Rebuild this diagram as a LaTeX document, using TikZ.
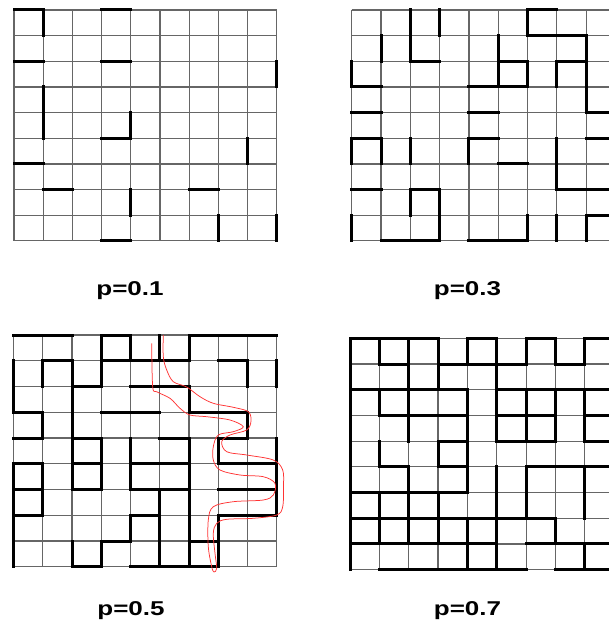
\documentclass[tikz,border=0pt]{standalone}
\usepackage{fontspec}
\setmainfont{Liberation Sans}
\usepackage{tikz}

\begin{document}
\begin{tikzpicture}[
    x=1pt, y=-1pt,
    gridline/.style={draw=black!60, line width=1.2pt},
    bond/.style={draw=black, line width=3pt, line cap=rect},
    cut/.style={draw=red!80, line width=0.75pt},
    plabel/.style={font=\fontsize{20}{24}\selectfont\bfseries, xscale=1.3, anchor=base, inner sep=0pt}
]
\path[use as bounding box] (0,0) rectangle (609,626);
\clip (0,0) rectangle (609,626);

% p = 0.1
\begin{scope}[shift={(14,10)}, xscale=29.2, yscale=25.65]
  \foreach \i in {0,...,9} {\draw[gridline] (\i,0) -- (\i,9); \draw[gridline] (0,\i) -- (9,\i);}
  \foreach \j/\a/\b in {0/0/1, 0/3/4, 2/0/1, 2/3/4, 5/3/4, 6/0/1, 7/1/2, 7/6/7, 9/3/4}
    \draw[bond] (\a,\j) -- (\b,\j);
  \foreach \i/\a/\b in {1/0/1, 1/3/5, 4/4/5, 4/7/8, 7/8/9, 8/5/6, 9/2/3, 9/8/9}
    \draw[bond] (\i,\a) -- (\i,\b);
\end{scope}

% p = 0.3
\begin{scope}[shift={(351.7,10)}, xscale=29.3, yscale=25.65]
  \foreach \i in {0,...,9} {\draw[gridline] (\i,0) -- (\i,9); \draw[gridline] (0,\i) -- (9,\i);}
  \foreach \j/\a/\b in {0/6/7, 1/6/8, 2/2/3, 2/5/6, 2/7/8, 3/0/1, 3/4/6, 4/0/1, 4/4/5, 4/8/9,
                        5/0/1, 5/4/5, 5/8/9, 6/5/6, 7/0/1, 7/2/3, 7/7/9, 8/8/9, 9/1/3, 9/4/6}
    \draw[bond] (\a,\j) -- (\b,\j);
  \foreach \i/\a/\b in {0/2/3, 0/5/6, 0/8/9, 1/1/2, 1/5/6, 2/0/2, 2/5/6, 2/7/8, 3/0/1, 3/7/9,
                        4/5/6, 5/1/3, 6/0/1, 6/2/3, 6/8/9, 7/2/3, 7/5/7, 7/8/9, 8/1/4, 8/8/9}
    \draw[bond] (\i,\a) -- (\i,\b);
\end{scope}

% p = 0.5
\begin{scope}[shift={(13.5,335)}, xscale=29.25, yscale=25.75]
  \foreach \i in {0,...,9} {\draw[gridline] (\i,0) -- (\i,9); \draw[gridline] (0,\i) -- (9,\i);}
  \foreach \j/\a/\b in {0/0/2, 0/3/4, 0/6/9, 1/1/2, 1/3/6, 1/7/8, 2/2/3, 2/4/6, 3/0/1, 3/3/5, 3/6/8,
                        4/0/1, 4/2/3, 4/5/6, 4/7/8, 5/0/1, 5/2/3, 5/4/6, 5/7/9, 6/0/1, 6/2/3, 6/4/6, 6/7/9,
                        7/0/1, 7/4/5, 7/7/9, 8/3/4, 8/6/7, 9/2/3, 9/4/7}
    \draw[bond] (\a,\j) -- (\b,\j);
  \foreach \i/\a/\b in {0/1/3, 0/5/9, 1/1/2, 1/3/4, 1/5/7, 2/1/6, 2/8/9, 3/0/2, 3/4/6, 3/8/9,
                        4/0/1, 4/4/6, 4/7/8, 5/0/1, 5/6/9, 6/0/1, 6/2/3, 6/4/9, 7/4/5, 7/7/9,
                        8/1/2, 8/3/4, 9/1/2, 9/4/7}
    \draw[bond] (\i,\a) -- (\i,\b);
\end{scope}

% spanning path
\draw[cut] plot[smooth, tension=0.55] coordinates {
  (163.3,335) (163.3,356.7) (166.7,370) (173.3,381.7) (186.7,387) (200,396.7) (213.3,403.3)
  (233.3,407.3) (248.3,411.7) (251,421) (246.7,430) (230,435) (221.7,441.7) (226.7,451.7)
  (246.7,455) (273.3,460) (282.7,470) (283.5,486.7) (282.7,506.7) (276.7,515) (253.3,518.3)
  (226.7,519.3) (216.7,523.3) (213.3,533.3) (215,553.3) (216.7,568.3) (214,572)
  (211.7,566.7) (208.3,546.7) (208.3,520) (213.3,506.7) (233.3,501.7) (263.3,500) (273.3,495)
  (275,483.3) (263.3,476.7) (240,475) (220,470) (213.3,460) (213.3,446.7) (218.3,435)
  (233.3,431.7) (243.3,426.7) (230,420) (206.7,416.7) (190,415) (180,408.3) (170,398.3)
  (156.7,391.7) (152.7,386.7) (151.7,343.3)};

% p = 0.7
\begin{scope}[shift={(350,338.3)}, xscale=29.35, yscale=25.7]
  \foreach \i in {0,...,9} {\draw[gridline] (\i,0) -- (\i,9); \draw[gridline] (0,\i) -- (9,\i);}
  \foreach \j/\a/\b in {0/0/3, 0/4/5, 0/6/7, 0/8/9, 1/1/2, 1/3/6, 1/7/8, 2/0/4, 2/5/9, 3/1/4, 3/5/7, 3/8/9,
                        4/3/4, 4/5/7, 4/8/9, 5/1/2, 5/3/4, 5/6/9, 6/0/4, 7/0/7, 8/0/5, 8/6/9, 9/1/6, 9/7/9}
    \draw[bond] (\a,\j) -- (\b,\j);
  \foreach \i/\a/\b in {0/0/9, 1/0/1, 1/2/3, 1/4/5, 1/6/8, 2/0/4, 2/5/8, 3/0/2, 3/4/5, 3/6/8,
                        4/0/1, 4/2/6, 4/7/9, 5/0/4, 5/5/9, 6/0/1, 6/2/4, 6/5/7, 7/0/1, 7/2/4, 7/7/8,
                        8/0/1, 8/2/4, 8/5/7, 8/8/9}
    \draw[bond] (\i,\a) -- (\i,\b);
\end{scope}

% labels
\node[plabel] (lab1) at (130,295) {p=0.1};
\node[plabel] (lab3) at (467.5,295) {p=0.3};
\node[plabel] (lab5) at (131,615) {p=0.5};
\node[plabel] (lab7) at (467.5,615) {p=0.7};

\end{tikzpicture}
\end{document}
